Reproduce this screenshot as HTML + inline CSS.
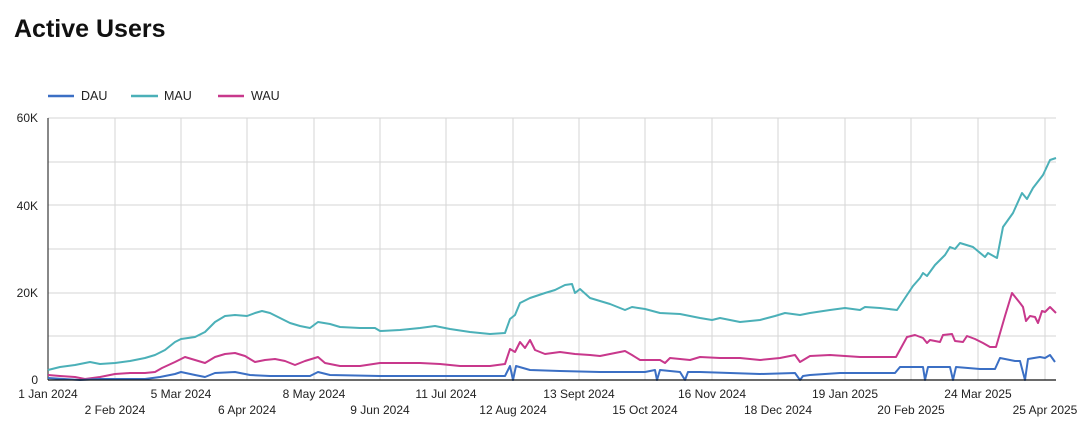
<!DOCTYPE html>
<html><head><meta charset="utf-8"><style>
body{margin:0;background:#fff;width:1086px;height:430px;overflow:hidden;font-family:"Liberation Sans",sans-serif}
</style></head><body>
<svg width="1086" height="430" xmlns="http://www.w3.org/2000/svg" font-family="Liberation Sans, sans-serif">
<text x="14" y="37" font-size="25" font-weight="bold" fill="#111">Active Users</text>
<g font-size="12.5" fill="#222">
<line x1="48" y1="96" x2="74" y2="96" stroke="#3b6fc4" stroke-width="2.5"/><text x="81" y="100">DAU</text>
<line x1="131" y1="96" x2="158" y2="96" stroke="#4bb0b8" stroke-width="2.5"/><text x="164" y="100">MAU</text>
<line x1="218" y1="96" x2="244" y2="96" stroke="#c8388c" stroke-width="2.5"/><text x="251" y="100">WAU</text>
</g>
<g stroke="#d5d5d5" stroke-width="1">
<line x1="48" y1="118" x2="1056" y2="118"/><line x1="48" y1="162" x2="1056" y2="162"/><line x1="48" y1="205" x2="1056" y2="205"/><line x1="48" y1="249" x2="1056" y2="249"/><line x1="48" y1="293" x2="1056" y2="293"/><line x1="48" y1="336" x2="1056" y2="336"/>
<line x1="115" y1="118" x2="115" y2="380"/><line x1="181" y1="118" x2="181" y2="380"/><line x1="247" y1="118" x2="247" y2="380"/><line x1="314" y1="118" x2="314" y2="380"/><line x1="380" y1="118" x2="380" y2="380"/><line x1="446" y1="118" x2="446" y2="380"/><line x1="513" y1="118" x2="513" y2="380"/><line x1="579" y1="118" x2="579" y2="380"/><line x1="645" y1="118" x2="645" y2="380"/><line x1="712" y1="118" x2="712" y2="380"/><line x1="778" y1="118" x2="778" y2="380"/><line x1="845" y1="118" x2="845" y2="380"/><line x1="911" y1="118" x2="911" y2="380"/><line x1="978" y1="118" x2="978" y2="380"/><line x1="1045" y1="118" x2="1045" y2="380"/>
</g>
<line x1="48" y1="118" x2="48" y2="380" stroke="#111" stroke-width="1"/>
<g font-size="12" fill="#222" text-anchor="end">
<text x="38" y="122">60K</text><text x="38" y="210">40K</text><text x="38" y="297">20K</text><text x="38" y="384">0</text>
</g>
<g font-size="12" fill="#222" text-anchor="middle">
<text x="48" y="398">1 Jan 2024</text><text x="181" y="398">5 Mar 2024</text><text x="314" y="398">8 May 2024</text><text x="446" y="398">11 Jul 2024</text><text x="579" y="398">13 Sept 2024</text><text x="712" y="398">16 Nov 2024</text><text x="845" y="398">19 Jan 2025</text><text x="978" y="398">24 Mar 2025</text>
<text x="115" y="414">2 Feb 2024</text><text x="247" y="414">6 Apr 2024</text><text x="380" y="414">9 Jun 2024</text><text x="513" y="414">12 Aug 2024</text><text x="645" y="414">15 Oct 2024</text><text x="778" y="414">18 Dec 2024</text><text x="911" y="414">20 Feb 2025</text><text x="1045" y="414">25 Apr 2025</text>
</g>
<g fill="none" stroke-width="2" stroke-linejoin="round">
<polyline stroke="#4bb0b8" points="48,370 60,367 75,365 90,362 100,364 115,363 130,361 145,358 155,355 165,350 175,342 181,339 195,337 205,332 215,322 225,316 235,315 247,316 255,313 262,311 270,313 280,318 290,323 300,326 310,328 318,322 330,324 340,327 360,328 375,328 380,331 400,330 420,328 435,326 450,329 470,332 490,334 505,333 510,319 515,315 520,303 530,298 545,293 555,290 565,285 572,284 575,293 580,289 590,298 610,304 625,310 632,307 645,309 660,313 680,314 700,318 712,320 720,318 740,322 760,320 775,316 785,313 800,315 810,313 830,310 845,308 860,310 865,307 880,308 897,310 905,298 913,286 920,278 923,273 927,276 935,265 945,255 950,247 955,249 960,243 973,247 985,257 988,253 997,258 1003,227 1013,213 1022,193 1027,199 1033,188 1043,175 1050,160 1056,158"/>
<polyline stroke="#c8388c" points="48,375 60,376 75,377 85,379 100,377 115,374 130,373 145,373 155,372 162,368 175,362 185,357 195,360 205,363 215,357 225,354 235,353 245,356 255,362 265,360 275,359 285,361 295,365 305,361 318,357 325,363 340,366 360,366 380,363 420,363 440,364 460,366 490,366 505,364 510,349 515,352 520,342 525,348 530,340 535,350 545,354 560,352 575,354 590,355 600,356 615,353 625,351 632,355 640,360 660,360 665,363 670,358 690,360 700,357 720,358 740,358 760,360 780,358 795,355 800,362 810,356 830,355 860,357 885,357 896,357 907,337 915,335 923,338 927,343 930,340 940,342 943,335 952,334 955,341 963,342 967,336 975,339 983,343 990,347 996,347 1005,316 1012,293 1020,303 1023,307 1026,321 1030,316 1035,317 1038,323 1042,311 1045,312 1050,307 1056,313"/>
<polyline stroke="#3b6fc4" points="48,378 80,380 100,379 145,379 160,377 175,374 181,372 195,375 205,377 215,373 235,372 250,375 270,376 290,376 310,376 318,372 330,375 380,376 440,376 505,376 510,366 513,380 516,366 530,370 560,371 600,372 645,372 655,370 657,380 660,370 680,372 685,380 688,372 700,372 760,374 795,373 800,380 803,376 810,375 840,373 895,373 900,367 923,367 925,380 928,367 950,367 953,380 956,367 980,369 995,369 1000,358 1015,361 1020,361 1025,380 1028,359 1040,357 1045,358 1050,355 1055,362"/>
</g>
<line x1="48" y1="380" x2="1056" y2="380" stroke="#111" stroke-width="1.2"/>
</svg>
</body></html>
